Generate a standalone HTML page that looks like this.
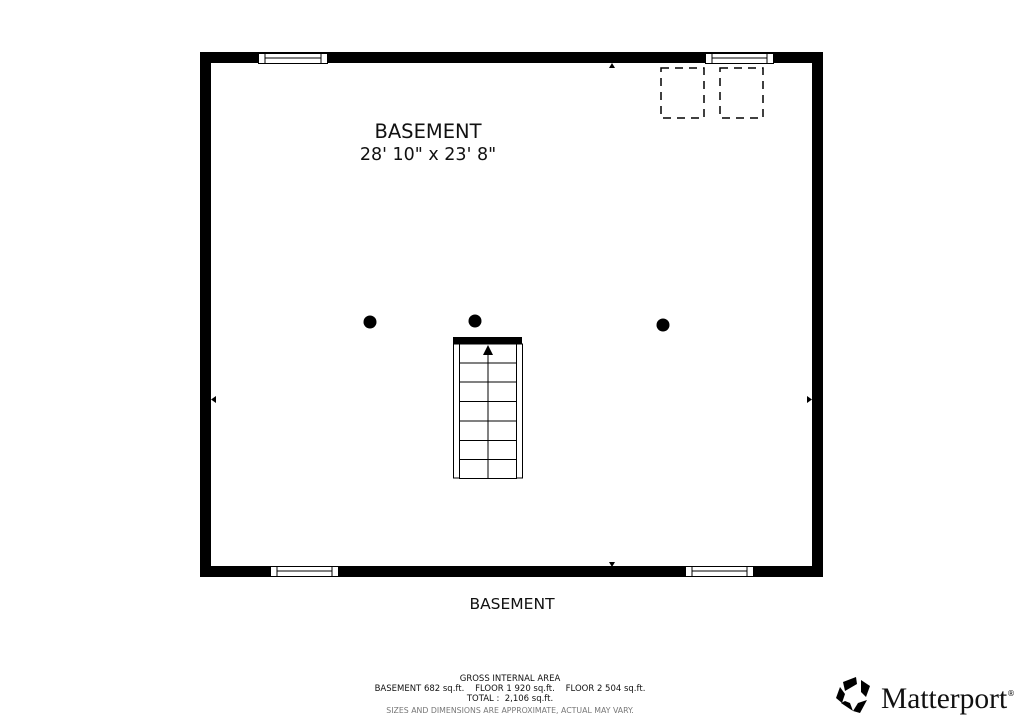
<!DOCTYPE html>
<html><head><meta charset="utf-8"><style>
html,body{margin:0;padding:0;background:#fff;}
svg{display:block;}
text{font-family:"DejaVu Sans","Liberation Sans",sans-serif;}
</style></head><body>
<svg width="1024" height="724" viewBox="0 0 1024 724" xmlns="http://www.w3.org/2000/svg">
<rect width="1024" height="724" fill="#fff"/>
<path d="M200 52H823V577H200Z M211 63V566H812V63Z" fill="#000" fill-rule="evenodd"/>
<g fill="#fff" stroke="#000" stroke-width="1">
<rect x="258.5" y="53.5" width="69" height="10"/>
<rect x="705.5" y="53.5" width="68" height="10"/>
<rect x="270.5" y="566.5" width="68" height="10"/>
<rect x="685.5" y="566.5" width="68" height="10"/>
</g>
<g stroke="#000" stroke-width="1">
<line x1="265" y1="53" x2="265" y2="63"/><line x1="321" y1="53" x2="321" y2="63"/><line x1="265" y1="58" x2="321" y2="58"/>
<line x1="712" y1="53" x2="712" y2="63"/><line x1="767" y1="53" x2="767" y2="63"/><line x1="712" y1="58" x2="767" y2="58"/>
<line x1="277" y1="566" x2="277" y2="576"/><line x1="332" y1="566" x2="332" y2="576"/><line x1="277" y1="571" x2="332" y2="571"/>
<line x1="692" y1="566" x2="692" y2="576"/><line x1="747" y1="566" x2="747" y2="576"/><line x1="692" y1="571" x2="747" y2="571"/>
</g>
<polygon points="609,68 615,68 612,63" fill="#000"/>
<polygon points="609,562 615,562 612,567" fill="#000"/>
<polygon points="216,396 216,403 211,399.5" fill="#000"/>
<polygon points="807,396 807,403 812,399.5" fill="#000"/>
<g fill="none" stroke="#000" stroke-width="1.5" stroke-dasharray="8,6">
<rect x="661" y="68" width="43" height="50"/>
<rect x="720" y="68" width="43" height="50"/>
</g>
<circle cx="370" cy="322" r="6.5" fill="#000"/>
<circle cx="475" cy="321" r="6.5" fill="#000"/>
<circle cx="663" cy="325" r="6.5" fill="#000"/>
<rect x="453" y="337" width="69" height="7" fill="#000"/>
<g fill="none" stroke="#000" stroke-width="1">
<rect x="453.5" y="344" width="6" height="134"/>
<rect x="516.5" y="344" width="6" height="134"/>
<rect x="459.5" y="344" width="57" height="134.5"/>
<line x1="488" y1="350" x2="488" y2="478"/>
<line x1="459" y1="363" x2="516" y2="363"/>
<line x1="459" y1="382" x2="516" y2="382"/>
<line x1="459" y1="401.5" x2="516" y2="401.5"/>
<line x1="459" y1="421" x2="516" y2="421"/>
<line x1="459" y1="440.5" x2="516" y2="440.5"/>
<line x1="459" y1="459.5" x2="516" y2="459.5"/>
</g>
<polygon points="483,355 493,355 488,345" fill="#000"/>
<text x="428" y="138" font-size="19.5" text-anchor="middle" fill="#111">BASEMENT</text>
<text x="428" y="160" font-size="17.5" text-anchor="middle" fill="#111">28' 10" x 23' 8"</text>
<text x="512" y="609" font-size="15.5" text-anchor="middle" fill="#111">BASEMENT</text>
<text x="510" y="681" font-size="8.5" text-anchor="middle" fill="#111">GROSS INTERNAL AREA</text>
<text x="510" y="691" font-size="8.5" text-anchor="middle" fill="#111" xml:space="preserve">BASEMENT 682 sq.ft.    FLOOR 1 920 sq.ft.    FLOOR 2 504 sq.ft.</text>
<text x="510" y="701" font-size="8.5" text-anchor="middle" fill="#111" xml:space="preserve">TOTAL :  2,106 sq.ft.</text>
<text x="510" y="713" font-size="7.8" text-anchor="middle" fill="#777">SIZES AND DIMENSIONS ARE APPROXIMATE, ACTUAL MAY VARY.</text>
<g fill="#000">
<polygon points="843,682 856,677 857,684 845,691"/>
<polygon points="861,680 870,686 866,697 861,692"/>
<polygon points="867,700 860,713 853,711 858,703"/>
<polygon points="853,711 841,703 845,701 850,703"/>
<polygon points="836,698 840,687 845,694 842,703"/>
</g>
<text x="881" y="708" font-size="29.5" fill="#111" style="font-family:'Liberation Serif',serif">Matterport</text>
<text x="1007" y="696" font-size="8" fill="#111">®</text>
</svg>
</body></html>
